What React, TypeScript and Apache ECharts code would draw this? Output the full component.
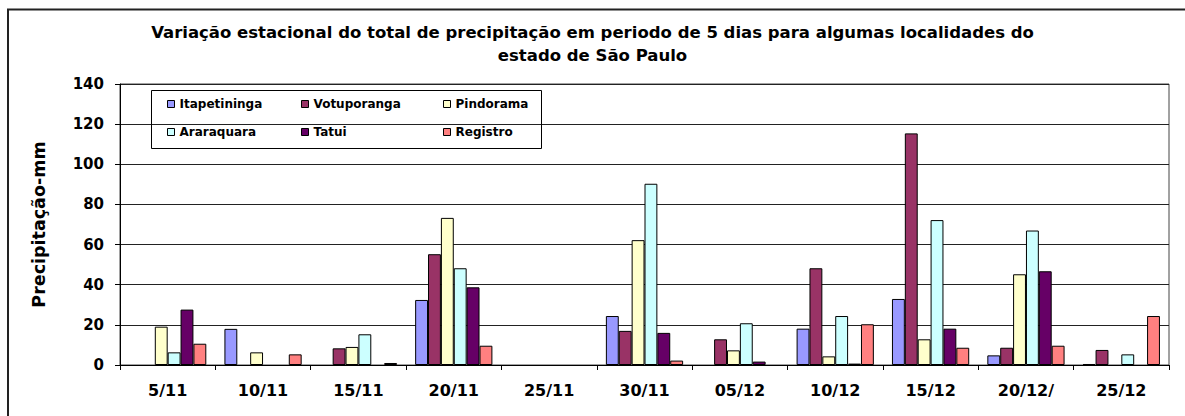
import React, { useEffect, useRef } from "react";
import * as echarts from "echarts";

const categories = ["5/11", "10/11", "15/11", "20/11", "25/11", "30/11", "05/12", "10/12", "15/12", "20/12/", "25/12"];
const seriesNames = ["Itapetininga", "Votuporanga", "Pindorama", "Araraquara", "Tatui", "Registro"];
const itapetininga = [0, 18, 0, 32.4, 0, 24.4, 0, 18.1, 32.9, 4.8, 0.5];
const votuporanga = [0, 0, 8.3, 55.2, 0, 17, 12.8, 48.2, 115.4, 8.6, 7.5];
const pindorama = [19.1, 6.3, 9, 73.3, 0, 62.2, 7.3, 4.3, 12.8, 45.2, 0];
const araraquara = [6.3, 0, 15.3, 48.2, 0, 90.3, 20.8, 24.4, 72.2, 67, 5.3];
const tatui = [27.6, 0, 0, 38.7, 0, 16, 1.7, 0.7, 18.1, 46.7, 0];
const registro = [10.6, 5.3, 1, 9.6, 0, 2.2, 0, 20.3, 8.6, 9.6, 24.4];
const seriesValues = [itapetininga, votuporanga, pindorama, araraquara, tatui, registro];
const colors = ["#9999FF", "#993366", "#FFFFCC", "#CCFFFF", "#660066", "#FF8080"];
const yTicks = [0, 20, 40, 60, 80, 100, 120, 140];

const titleText =
  "Variação estacional do total de precipitação em periodo de 5 dias para algumas localidades do\nestado de São Paulo";
const yName = "Precipitação-mm";

const FONT = "'DejaVu Sans', 'Liberation Sans', Arial, sans-serif";

export default function App() {
  const ref = useRef<HTMLDivElement>(null);
  useEffect(() => {
    if (!ref.current) return;
    const chart = echarts.init(ref.current, null, { renderer: "svg" });
    const legendPos = [
      { left: 167, top: 98 },
      { left: 301, top: 98 },
      { left: 443, top: 98 },
      { left: 167, top: 126 },
      { left: 301, top: 126 },
      { left: 443, top: 126 },
    ];
    const option: any = {
      animation: false,
      backgroundColor: "#fff",
      title: {
        text: titleText,
        left: "center",
        top: 16,
        textStyle: {
          fontFamily: FONT,
          fontWeight: "bold",
          fontSize: 16.5,
          lineHeight: 23,
          color: "#000",
        },
      },
      legend: seriesNames.map((n, i) => ({
        data: [n],
        left: legendPos[i].left,
        top: legendPos[i].top,
        padding: 0,
        icon: "rect",
        itemWidth: 7,
        itemHeight: 7,
        selectedMode: false,
        itemStyle: { borderColor: "#000", borderWidth: 1 },
        textStyle: { fontFamily: FONT, fontWeight: "bold", fontSize: 12, color: "#000" },
      })),
      graphic: [
        {
          type: "rect",
          shape: { x: 8, y: 9.5, width: 1200, height: 500 },
          style: { fill: "none", stroke: "#222", lineWidth: 2 },
          silent: true,
        },
        {
          type: "rect",
          shape: { x: 151.5, y: 90.5, width: 390, height: 58 },
          style: { fill: "none", stroke: "#000", lineWidth: 1 },
          silent: true,
          z: 10,
        },
      ],
      grid: {
        left: 120,
        right: 16,
        top: 84,
        bottom: 51,
        show: true,
        borderColor: "#444",
        borderWidth: 1,
        backgroundColor: "transparent",
      },
      xAxis: {
        type: "category",
        data: categories,
        axisLine: { lineStyle: { color: "#000", width: 1 } },
        axisTick: { show: true, alignWithLabel: false, length: 5, lineStyle: { color: "#000" } },
        axisLabel: {
          fontFamily: FONT,
          fontWeight: "bold",
          fontSize: 16,
          color: "#000",
          margin: 17,
          interval: 0,
        },
      },
      yAxis: {
        type: "value",
        min: yTicks[0],
        max: yTicks[yTicks.length - 1],
        interval: 20,
        name: yName,
        nameLocation: "middle",
        nameRotate: 90,
        nameGap: 72,
        nameTextStyle: { fontFamily: FONT, fontWeight: "bold", fontSize: 17.5, color: "#000" },
        axisLine: { show: true, lineStyle: { color: "#000", width: 1 } },
        axisTick: { show: true, length: 5, lineStyle: { color: "#000" } },
        axisLabel: { fontFamily: FONT, fontWeight: "bold", fontSize: 15, color: "#000", margin: 16 },
        splitLine: { show: true, lineStyle: { color: "#222", width: 1 } },
      },
      series: seriesNames.map((n, i) => ({
        name: n,
        type: "bar",
        data: seriesValues[i].map((v) =>
          v === 0 ? { value: v, itemStyle: { borderWidth: 0 } } : v
        ),
        barGap: "0%",
        barCategoryGap: "19%",
        itemStyle: { color: colors[i], borderColor: "#000", borderWidth: 1 },
      })),
    };
    chart.setOption(option);
    return () => chart.dispose();
  }, []);
  return (
    <div
      ref={ref}
      style={{ position: "fixed", left: 0, top: 0, width: 1185, height: 416, background: "#fff" }}
    />
  );
}
